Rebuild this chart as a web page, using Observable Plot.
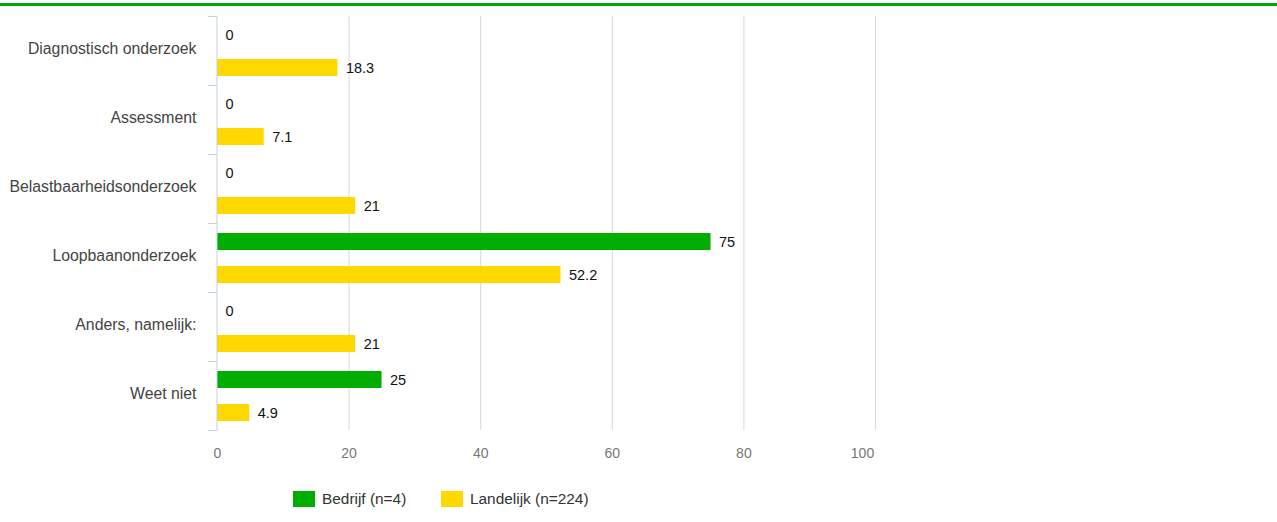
<!DOCTYPE html>
<html>
<head>
<meta charset="utf-8">
<script src="https://cdn.jsdelivr.net/npm/d3@7"></script>
<script src="https://cdn.jsdelivr.net/npm/@observablehq/plot@0.6"></script>
<style>
  body { margin: 0; background: #fff; font-family: "Liberation Sans", Arial, sans-serif; }
  #topline { margin-top: 3px; height: 3px; background: #00a800; width: 1277px; }
  #chart svg { display: block; }
  #legend { position: relative; height: 50px; font-size: 15.4px; color: #333; }
  .item { position: absolute; top: 19px; display: flex; align-items: center; }
  .sw { width: 22px; height: 16px; margin-right: 7px; }
</style>
</head>
<body>
<div id="topline"></div>
<div id="chart"></div>
<div id="legend"></div>
<script>
const categories = ["Diagnostisch onderzoek", "Assessment", "Belastbaarheidsonderzoek", "Loopbaanonderzoek", "Anders, namelijk:", "Weet niet"];
const seriesNames = ["Bedrijf (n=4)", "Landelijk (n=224)"];
const bedrijf = [0, 0, 0, 75, 0, 25];
const landelijk = [18.3, 7.1, 21, 52.2, 21, 4.9];
const seriesColors = ["#00ad00", "#ffd800"];
const xTicks = [0, 20, 40, 60, 80, 100];

const data = [];
categories.forEach((c, i) => {
  data.push({cat: c, series: seriesNames[0], value: bedrijf[i]});
  data.push({cat: c, series: seriesNames[1], value: landelijk[i]});
});

const chart = Plot.plot({
  width: 1277,
  height: 465,
  marginTop: 7,
  marginBottom: 39,
  marginLeft: 217,
  marginRight: 402,
  style: {fontFamily: "'Liberation Sans', Arial, sans-serif", background: "#fff"},
  x: {domain: [0, 100], axis: null},
  y: {domain: seriesNames, paddingInner: 0.5, paddingOuter: 0.28, axis: null},
  fy: {domain: categories, padding: 0, label: null},
  color: {domain: seriesNames, range: seriesColors},
  marks: [
    Plot.ruleX(xTicks.filter(d => d > 0), {stroke: "#d8d8d8", strokeWidth: 1}),
    Plot.barX(data, {fy: "cat", y: "series", x: "value", fill: "series"}),
    Plot.text(data, {fy: "cat", y: "series", x: "value", text: d => String(d.value), dx: 8, textAnchor: "start", fill: "#111", fontSize: 14.5}),
    Plot.ruleX([0], {stroke: "#c3d0df", strokeWidth: 1, dx: -0.5}),
    Plot.frame({anchor: "top", stroke: "#c3d0df", insetLeft: -9, insetRight: 659}),
    Plot.frame({anchor: "bottom", stroke: "#c3d0df", insetLeft: -9, insetRight: 659}),
    Plot.axisFy({anchor: "left", tickSize: 0, tickPadding: 21, fontSize: 15.8, color: "#444", label: null, dy: -2}),
    Plot.axisX(xTicks.slice(0, -1), {anchor: "bottom", tickSize: 0, tickPadding: 18, fontSize: 14, color: "#777", label: null, facetAnchor: "bottom"}),
    Plot.axisX(xTicks.slice(-1), {anchor: "bottom", tickSize: 0, tickPadding: 18, fontSize: 14, color: "#777", label: null, facetAnchor: "bottom", dx: -13})
  ]
});
document.getElementById("chart").appendChild(chart);

const legend = document.getElementById("legend");
const lx = [293, 441];
seriesNames.forEach((s, i) => {
  const it = document.createElement("div");
  it.className = "item";
  it.style.left = lx[i] + "px";
  const sw = document.createElement("div");
  sw.className = "sw";
  sw.style.background = seriesColors[i];
  const t = document.createElement("span");
  t.textContent = s;
  it.appendChild(sw);
  it.appendChild(t);
  legend.appendChild(it);
});
</script>
</body>
</html>
